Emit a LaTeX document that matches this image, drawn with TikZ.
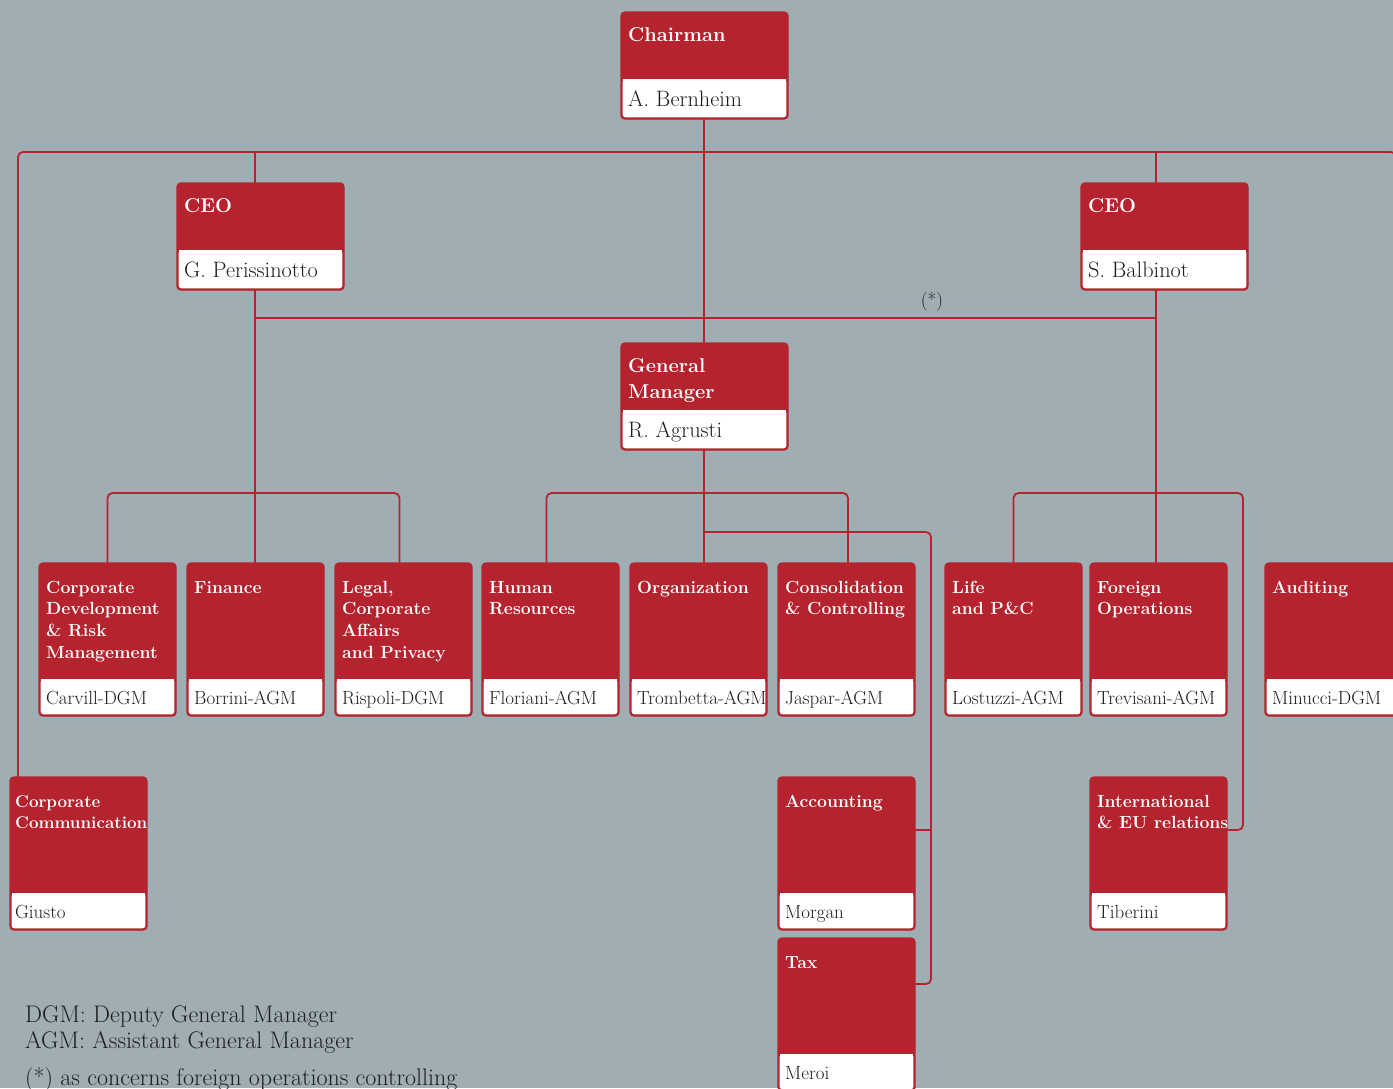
\documentclass[tikz,border=0pt]{standalone}
\usepackage{fontspec}
\usetikzlibrary{calc}
\pgfdeclarelayer{back}
\pgfsetlayers{back,main}
\definecolor{bg}{HTML}{A0ADB2}
\definecolor{gred}{HTML}{B5232E}
\definecolor{ink}{HTML}{1E1E1E}
\tikzset{
 obox/.style={draw=gred, fill=gred, line width=1.4pt, rounded corners=4pt, inner sep=0pt, outer sep=0pt},
 line/.style={draw=gred, line width=1.8pt},
 conn/.style={line, rounded corners=5pt},
 ttl/.style={text=white, inner sep=0pt, align=left, anchor=north west},
 who/.style={text=ink, inner sep=0pt, anchor=base west},
 legend/.style={text=ink, anchor=base west, inner sep=0pt, font=\fontsize{24}{28}\selectfont},
}
\newcommand\kindtop{\def\bw{167}\def\bh{107}\def\hh{67}\def\tb{29}\def\nb{94}\def\tx{7}\def\tfont{\fontsize{20}{26.5}\selectfont\bfseries}\def\nfont{\fontsize{22.3}{26}\selectfont}\def\rh{15}}
\newcommand\kinddept{\def\bw{137}\def\bh{153}\def\hh{116}\def\tb{30}\def\nb{141}\def\tx{7}\def\tfont{\fontsize{17.6}{21.7}\selectfont\bfseries}\def\nfont{\fontsize{19}{22}\selectfont}\def\rh{13.5}}
\newcommand\kindcc{\kinddept\def\tx{5}\def\tfont{\fontsize{17}{21.7}\selectfont\bfseries}}
\newcommand\orgbox[6]{%
 \csname kind#4\endcsname
 \node[obox, minimum width=\bw, minimum height=\bh, anchor=north west] (#1) at (#2,#3) {};
 \fill[white, rounded corners=3pt] ($(#1.south west)+(1.6,-1.6)$) rectangle ($(#1.north east)+(-1.6,\hh)$);
 \fill[white] ($(#1.north west)+(1.6,\hh)$) rectangle ($(#1.north east)+(-1.6,\hh+6)$);
 \node[ttl, font=\tfont] (#1-t) at ($(#1.north west)+(\tx,\tb-\rh)$) {\rule{0pt}{\rh pt}#5};
 \node[who, font=\nfont] (#1-n) at ($(#1.north west)+(\tx,\nb)$) {#6};
}
\begin{document}
\begin{tikzpicture}[x=1pt,y=-1pt]
\begin{pgfonlayer}{back}
\fill[bg] (0,0) rectangle (1393,1088);
\end{pgfonlayer}
\useasboundingbox (0,0) rectangle (1393,1088);
\clip (0,0) rectangle (1393,1088);
% boxes
\orgbox{chair}{621}{12}{top}{Chairman}{A. Bernheim}
\orgbox{ceoL}{177}{183}{top}{CEO}{G. Perissinotto}
\orgbox{ceoR}{1081}{183}{top}{CEO}{S. Balbinot}
\orgbox{gm}{621}{343}{top}{General\\Manager}{R. Agrusti}
\orgbox{cd}{39}{563}{dept}{Corporate\\Development\\\& Risk\\Management}{Carvill-DGM}
\orgbox{fin}{187}{563}{dept}{Finance}{Borrini-AGM}
\orgbox{legal}{335}{563}{dept}{Legal,\\Corporate\\Affairs\\and Privacy}{Rispoli-DGM}
\orgbox{hr}{482}{563}{dept}{Human\\Resources}{Floriani-AGM}
\orgbox{org}{630}{563}{dept}{Organization}{Trombetta-AGM}
\orgbox{cons}{778}{563}{dept}{Consolidation\\\& Controlling}{Jaspar-AGM}
\orgbox{life}{945}{563}{dept}{Life\\and P\&C}{Lostuzzi-AGM}
\orgbox{fore}{1090}{563}{dept}{Foreign\\Operations}{Trevisani-AGM}
\orgbox{audit}{1265}{563}{dept}{Auditing}{Minucci-DGM}
\orgbox{cc}{10}{777}{cc}{Corporate\\Communication}{Giusto}
\orgbox{acc}{778}{777}{dept}{Accounting}{Morgan}
\orgbox{tax}{778}{938}{dept}{Tax}{Meroi}
\orgbox{intl}{1090}{777}{dept}{International\\\& EU relations}{Tiberini}
% helper coordinates
\coordinate (bus) at (0,152);
\coordinate (bus2) at (0,318);
\coordinate (b1) at (0,493);
\coordinate (l2) at (931,532);
\coordinate (rb) at (1243,493);
\coordinate (audtop) at ([xshift=131pt]audit.north west);
\coordinate (accin) at ([yshift=-53pt]acc.north east);
\coordinate (taxin) at ([yshift=-46pt]tax.north east);
\coordinate (intin) at ([yshift=-53pt]intl.north east);
\coordinate (finx) at ([xshift=-0.5pt]fin.north);
\coordinate (forex) at ([xshift=-2.5pt]fore.north);
\coordinate (gmx) at ([xshift=-0.5pt]gm.south);
\coordinate (legx) at ([xshift=-4pt]legal.north);
\coordinate (hrx) at ([xshift=-4pt]hr.north);
\coordinate (consx) at ([xshift=1.5pt]cons.north);
% connectors (behind the boxes)
\begin{pgfonlayer}{back}
\draw[line] (gmx |- chair.south) -- (gmx |- gm.north);
\draw[conn] ([xshift=8pt]cc.north west) |- (bus -| audtop) -- (audtop);
\draw[line] (finx) -- (finx |- bus);
\draw[line] (forex) -- (forex |- bus);
\draw[line] (finx |- bus2) -- (forex |- bus2);
\draw[line] (gmx) -- (gmx |- org.north);
\draw[conn] (cd.north) |- (legx |- b1) -- (legx);
\draw[conn] (hrx) |- (consx |- b1) -- (consx);
\draw[conn] (gmx |- l2) -- (l2) |- (taxin);
\draw[line] (accin) -- (accin -| l2);
\draw[conn] (life.north) |- (rb) |- (intin);
\end{pgfonlayer}
% labels
\node[text=ink, font=\fontsize{19}{21}\selectfont] (star) at (932,302) {(*)};
\node[legend] (leg1) at (25,1022) {DGM: Deputy General Manager};
\node[legend] (leg2) at (25,1048) {AGM: Assistant General Manager};
\node[legend] (leg3) at (25,1085) {(*) as concerns foreign operations controlling};
\end{tikzpicture}
\end{document}
